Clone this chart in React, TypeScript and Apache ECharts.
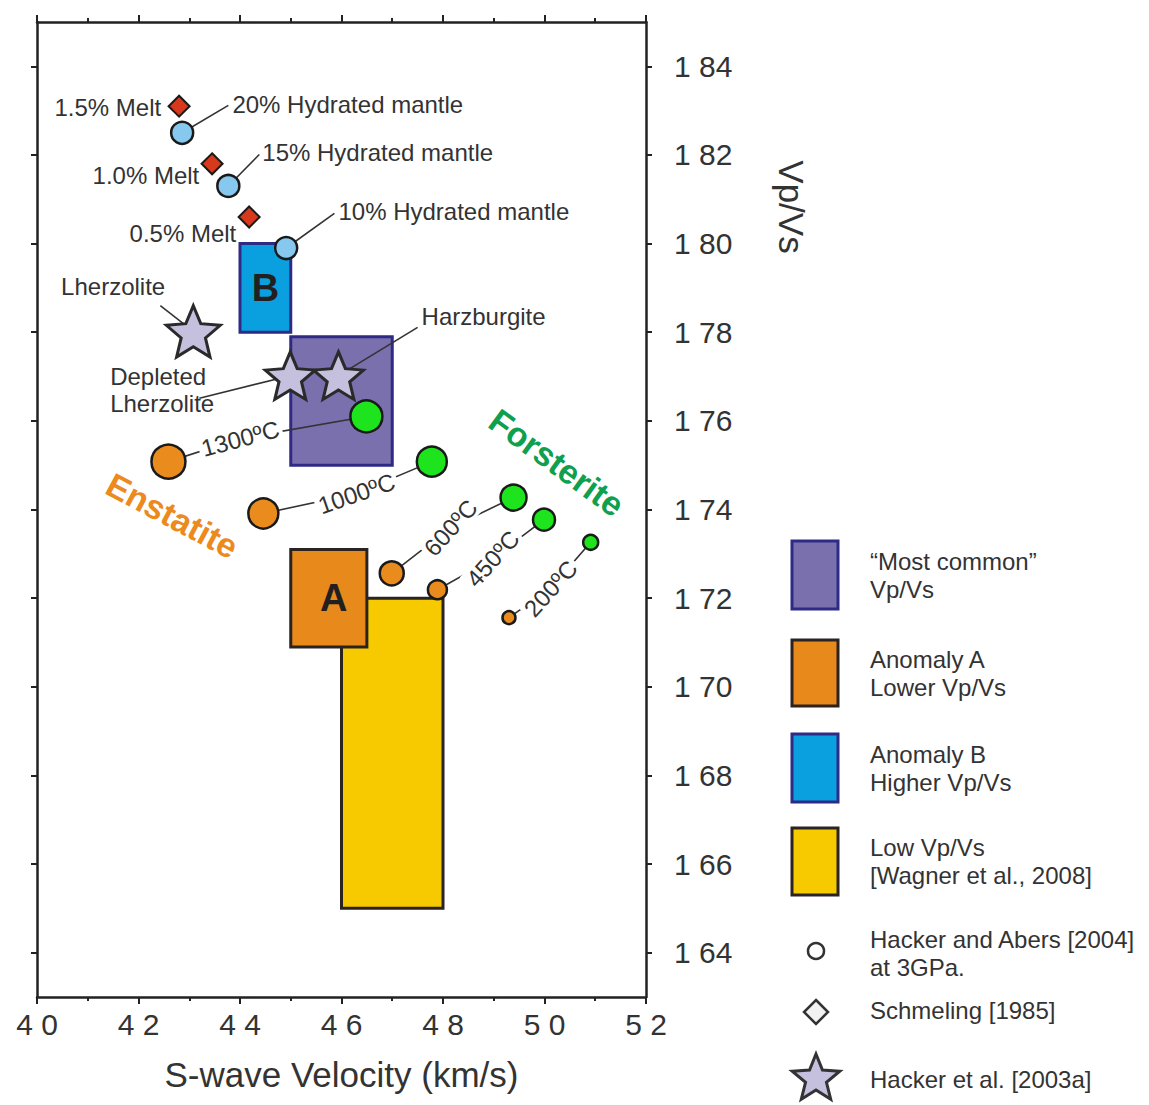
import React, { useEffect, useRef } from "react";
import * as echarts from "echarts";

const FONT = "'Liberation Sans', Arial, Helvetica, sans-serif";
const TXT = "#333333";

// ---- axes ----
const X_MIN = 4.0;
const X_MAX = 5.2;
const X_STEP = 0.2;
const Y_MIN = 1.63;
const Y_MAX = 1.85;
const Y_TICKS = [1.64, 1.66, 1.68, 1.7, 1.72, 1.74, 1.76, 1.78, 1.8, 1.82, 1.84];

// ---- rectangles (Vs range, Vp/Vs range) ----
const boxNames = ["Low Vp/Vs", "Most common", "Anomaly A", "Anomaly B"];
const boxLetters = ["", "", "A", "B"];
const boxVsMin = [4.6, 4.5, 4.5, 4.4];
const boxVsMax = [4.8, 4.7, 4.65, 4.5];
const boxRatioMin = [1.65, 1.75, 1.709, 1.78];
const boxRatioMax = [1.72, 1.779, 1.731, 1.8];
const boxFill = ["#F7CA00", "#7B70AE", "#E8891C", "#0AA0E0"];
const boxStroke = ["#2A2320", "#2E2A85", "#2A2320", "#2E2A85"];

// ---- Schmeling [1985] melt ----
const meltNames = ["1.5% Melt", "1.0% Melt", "0.5% Melt"];
const meltVs = [4.28, 4.345, 4.418];
const meltRatio = [1.831, 1.818, 1.806];
const meltLabelVs = [4.2447, 4.3197, 4.3927];
const meltLabelRatio = [1.8307, 1.8154, 1.8023];

// ---- Hydrated mantle ----
const hydNames = ["20% Hydrated mantle", "15% Hydrated mantle", "10% Hydrated mantle"];
const hydVs = [4.286, 4.377, 4.491];
const hydRatio = [1.825, 1.813, 1.799];
const hydLeaderVs = [4.377, 4.438, 4.586];
const hydLeaderRatio = [1.8312, 1.8201, 1.8068];
const hydLabelVs = [4.385, 4.444, 4.594];
const hydLabelRatio = [1.8314, 1.8206, 1.8073];

// ---- Hacker et al. [2003a] rocks ----
const rockNames = ["Lherzolite", "Depleted\nLherzolite", "Harzburgite"];
const rockVs = [4.308, 4.499, 4.594];
const rockRatio = [1.7802, 1.7702, 1.7702];
const rockLeaderVs = [4.243, 4.32, 4.75];
const rockLeaderRatio = [1.786, 1.7651, 1.7811];
const rockLabelVs = [4.15, 4.1441, 4.7578];
const rockLabelRatio = [1.7903, 1.7669, 1.7836];
const rockLabelPos = ["inside", "right", "right"];
const rockSize = [54, 50, 50];

// ---- Hacker and Abers [2004] at 3GPa ----
const tempLabels = ["1300ºC", "1000ºC", "600ºC", "450ºC", "200ºC"];
const enstatiteVs = [4.259, 4.446, 4.699, 4.789, 4.93];
const enstatiteRatio = [1.7508, 1.7391, 1.7256, 1.7219, 1.7156];
const forsteriteVs = [4.649, 4.778, 4.939, 4.999, 5.091];
const forsteriteRatio = [1.761, 1.7508, 1.7427, 1.7377, 1.7326];
const tempLabelVs = [4.4006, 4.6296, 4.815, 4.898, 5.012];
const tempLabelRatio = [1.756, 1.7436, 1.7359, 1.7289, 1.7222];
const tempLabelRot = [15, 19, 48, 48, 48];
const enstatiteSize = [34, 30, 24, 19, 13];
const forsteriteSize = [32, 30, 26, 22, 15];

// ---- mineral names ----
const mineralNames = ["Enstatite", "Forsterite"];
const mineralVs = [4.2664, 5.0243];
const mineralRatio = [1.7386, 1.7506];
const mineralRot = [-28, -36];
const mineralColor = ["#EC8A1E", "#0FA04F"];

const STAR_PATH =
  "path://M50 0L63.23 31.8L97.55 34.55L71.4 56.95L79.39 90.45L50 72.5L20.61 90.45L28.6 56.95L2.45 34.55L36.77 31.8Z";

function starPoints(cx: number, cy: number, R: number, r: number) {
  const pts: number[][] = [];
  for (let k = 0; k < 10; k++) {
    const a = ((-90 + 36 * k) * Math.PI) / 180;
    const rr = k % 2 === 0 ? R : r;
    pts.push([cx + rr * Math.cos(a), cy + rr * Math.sin(a)]);
  }
  return pts;
}

function legendGraphics() {
  const g: any[] = [];
  const rx = 792;
  const rw = 46;
  const rects = [
    { y: 541, h: 68, fill: "#7B70AE", stroke: "#2E2A85", l1: "\u201CMost common\u201D", l2: "Vp/Vs" },
    { y: 640, h: 66, fill: "#E8891C", stroke: "#2A2320", l1: "Anomaly A", l2: "Lower Vp/Vs" },
    { y: 734, h: 68, fill: "#0AA0E0", stroke: "#2E2A85", l1: "Anomaly B", l2: "Higher Vp/Vs" },
    { y: 828, h: 67, fill: "#F7CA00", stroke: "#2A2320", l1: "Low Vp/Vs", l2: "[Wagner et al., 2008]" },
  ];
  rects.forEach((r) => {
    g.push({
      type: "rect",
      shape: { x: rx, y: r.y, width: rw, height: r.h },
      style: { fill: r.fill, stroke: r.stroke, lineWidth: 3 },
    });
    const cy = r.y + r.h / 2;
    g.push({
      type: "text",
      x: 870,
      y: cy - 14,
      style: { text: r.l1, fill: TXT, font: `24px ${FONT}`, align: "left", verticalAlign: "middle" },
    });
    g.push({
      type: "text",
      x: 870,
      y: cy + 14,
      style: { text: r.l2, fill: TXT, font: `24px ${FONT}`, align: "left", verticalAlign: "middle" },
    });
  });
  g.push({
    type: "circle",
    shape: { cx: 816, cy: 951, r: 8 },
    style: { fill: "#ffffff", stroke: "#333", lineWidth: 2.5 },
  });
  g.push({
    type: "text",
    x: 870,
    y: 939,
    style: { text: "Hacker and Abers [2004]", fill: TXT, font: `24px ${FONT}`, align: "left", verticalAlign: "middle" },
  });
  g.push({
    type: "text",
    x: 870,
    y: 967,
    style: { text: "at 3GPa.", fill: TXT, font: `24px ${FONT}`, align: "left", verticalAlign: "middle" },
  });
  g.push({
    type: "polygon",
    shape: { points: [[816, 1000], [828, 1012], [816, 1024], [804, 1012]] },
    style: { fill: "#f2f2f2", stroke: "#333", lineWidth: 2.5 },
  });
  g.push({
    type: "text",
    x: 870,
    y: 1010,
    style: { text: "Schmeling [1985]", fill: TXT, font: `24px ${FONT}`, align: "left", verticalAlign: "middle" },
  });
  g.push({
    type: "polygon",
    shape: { points: starPoints(816, 1079, 25, 11) },
    style: { fill: "#C4C0DE", stroke: "#333", lineWidth: 3 },
  });
  g.push({
    type: "text",
    x: 870,
    y: 1079,
    style: { text: "Hacker et al. [2003a]", fill: TXT, font: `24px ${FONT}`, align: "left", verticalAlign: "middle" },
  });
  // y axis title
  g.push({
    type: "text",
    x: 791,
    y: 207,
    rotation: -Math.PI / 2,
    style: { text: "Vp/Vs", fill: TXT, font: `35px ${FONT}`, align: "center", verticalAlign: "middle" },
  });
  return g;
}

function buildOption(): any {
  const lineData: any[] = [];
  tempLabels.forEach((_, i) => {
    lineData.push({
      coords: [
        [enstatiteVs[i], enstatiteRatio[i]],
        [tempLabelVs[i], tempLabelRatio[i]],
        [forsteriteVs[i], forsteriteRatio[i]],
      ],
    });
  });
  hydNames.forEach((_, i) => {
    lineData.push({ coords: [[hydVs[i], hydRatio[i]], [hydLeaderVs[i], hydLeaderRatio[i]]] });
  });
  rockNames.forEach((_, i) => {
    lineData.push({ coords: [[rockVs[i], rockRatio[i]], [rockLeaderVs[i], rockLeaderRatio[i]]] });
  });

  const annot: any[] = [];
  hydNames.forEach((n, i) =>
    annot.push({ name: n, value: [hydLabelVs[i], hydLabelRatio[i]], label: { position: "right" } })
  );
  meltNames.forEach((n, i) =>
    annot.push({ name: n, value: [meltLabelVs[i], meltLabelRatio[i]], label: { position: "left" } })
  );
  rockNames.forEach((n, i) =>
    annot.push({ name: n, value: [rockLabelVs[i], rockLabelRatio[i]], label: { position: rockLabelPos[i] } })
  );

  const axisLabelFont = { fontFamily: FONT, fontSize: 30, color: TXT };
  const solid = { opacity: 1 };

  return {
    animation: false,
    backgroundColor: "#ffffff",
    textStyle: { fontFamily: FONT },
    grid: { left: 37, right: 503, top: 22, bottom: 108, containLabel: false },
    xAxis: [
      {
        type: "value",
        position: "bottom",
        min: X_MIN,
        max: X_MAX,
        interval: X_STEP,
        name: "S-wave Velocity (km/s)",
        nameLocation: "middle",
        nameGap: 60,
        nameTextStyle: { fontFamily: FONT, fontSize: 35, color: TXT },
        axisLine: { show: true, onZero: false, lineStyle: { color: "#222", width: 2.5 } },
        axisTick: { show: true, length: 7, lineStyle: { color: "#222", width: 2 } },
        minorTick: { show: true, splitNumber: 2, length: 4, lineStyle: { color: "#222", width: 2 } },
        axisLabel: {
          ...axisLabelFont,
          margin: 12,
          formatter: (v: number) => v.toFixed(1).replace(".", " "),
        },
        splitLine: { show: false },
      },
      {
        type: "value",
        position: "top",
        min: X_MIN,
        max: X_MAX,
        interval: X_STEP,
        axisLine: { show: true, onZero: false, lineStyle: { color: "#222", width: 2.5 } },
        axisTick: { show: true, length: 7, lineStyle: { color: "#222", width: 2 } },
        minorTick: { show: true, splitNumber: 2, length: 4, lineStyle: { color: "#222", width: 2 } },
        axisLabel: { show: false },
        splitLine: { show: false },
      },
    ],
    yAxis: [
      {
        type: "value",
        position: "right",
        min: Y_MIN,
        max: Y_MAX,
        axisLine: { show: true, onZero: false, lineStyle: { color: "#222", width: 2.5 } },
        axisTick: { show: true, length: 6, customValues: Y_TICKS, lineStyle: { color: "#222", width: 2 } },
        axisLabel: {
          ...axisLabelFont,
          margin: 28,
          customValues: Y_TICKS,
          formatter: (v: number) => v.toFixed(2).replace(".", " "),
        },
        splitLine: { show: false },
      },
      {
        type: "value",
        position: "left",
        min: Y_MIN,
        max: Y_MAX,
        axisLine: { show: true, onZero: false, lineStyle: { color: "#222", width: 2.5 } },
        axisTick: { show: true, length: 6, customValues: Y_TICKS, lineStyle: { color: "#222", width: 2 } },
        axisLabel: { show: false, customValues: Y_TICKS },
        splitLine: { show: false },
      },
    ],
    graphic: legendGraphics(),
    series: [
      {
        type: "custom",
        name: "boxes",
        z: 1,
        silent: true,
        encode: { x: [0, 1], y: [2, 3] },
        data: boxNames.map((_, i) => [boxVsMin[i], boxVsMax[i], boxRatioMin[i], boxRatioMax[i]]),
        renderItem: (params: any, api: any) => {
          const i = params.dataIndex;
          const tl = api.coord([api.value(0), api.value(3)]);
          const br = api.coord([api.value(1), api.value(2)]);
          const children: any[] = [
            {
              type: "rect",
              shape: { x: tl[0], y: tl[1], width: br[0] - tl[0], height: br[1] - tl[1] },
              style: { fill: boxFill[i], stroke: boxStroke[i], lineWidth: 3 },
            },
          ];
          if (boxLetters[i]) {
            children.push({
              type: "text",
              x: (tl[0] + br[0]) / 2 + (i === 2 ? 5 : 0),
              y: (tl[1] + br[1]) / 2,
              style: {
                text: boxLetters[i],
                fill: "#231F20",
                font: `bold 38px ${FONT}`,
                align: "center",
                verticalAlign: "middle",
              },
            });
          }
          return { type: "group", children };
        },
      },
      {
        type: "lines",
        coordinateSystem: "cartesian2d",
        polyline: true,
        z: 2,
        silent: true,
        lineStyle: { color: "#333", width: 1.6, opacity: 1 },
        data: lineData,
      },
      {
        type: "scatter",
        name: "Enstatite",
        z: 3,
        symbol: "circle",
        itemStyle: { color: "#EA8B1E", borderColor: "#1a1a1a", borderWidth: 2.5, opacity: 1 },
        data: enstatiteVs.map((x, i) => ({ value: [x, enstatiteRatio[i]], symbolSize: enstatiteSize[i] })),
      },
      {
        type: "scatter",
        name: "Forsterite",
        z: 3,
        symbol: "circle",
        itemStyle: { color: "#1EE41E", borderColor: "#1a1a1a", borderWidth: 2.5, opacity: 1 },
        data: forsteriteVs.map((x, i) => ({ value: [x, forsteriteRatio[i]], symbolSize: forsteriteSize[i] })),
      },
      {
        type: "scatter",
        name: "Hydrated",
        z: 3,
        symbol: "circle",
        symbolSize: 22,
        itemStyle: { color: "#86C8EE", borderColor: "#1a1a1a", borderWidth: 2.5, opacity: 1 },
        data: hydVs.map((x, i) => [x, hydRatio[i]]),
      },
      {
        type: "scatter",
        name: "Melt",
        z: 3,
        symbol: "diamond",
        symbolSize: 21,
        itemStyle: { color: "#D8381C", borderColor: "#1a1a1a", borderWidth: 2, opacity: 1 },
        data: meltVs.map((x, i) => [x, meltRatio[i]]),
      },
      {
        type: "scatter",
        name: "Rocks",
        z: 3,
        symbol: STAR_PATH,
        itemStyle: { color: "#C4C0DE", borderColor: "#2a2a2a", borderWidth: 3, opacity: 1 },
        data: rockVs.map((x, i) => ({ value: [x, rockRatio[i]], symbolSize: [rockSize[i], rockSize[i] * 0.95] })),
      },
      {
        type: "scatter",
        name: "annotations",
        z: 4,
        silent: true,
        symbolSize: 0,
        itemStyle: solid,
        label: {
          show: true,
          formatter: "{b}",
          distance: 0,
          fontFamily: FONT,
          fontSize: 24,
          lineHeight: 27,
          color: TXT,
          opacity: 1,
        },
        data: annot,
      },
      {
        type: "scatter",
        name: "temperatures",
        z: 4,
        silent: true,
        symbolSize: 0,
        itemStyle: solid,
        label: {
          show: true,
          position: "inside",
          formatter: "{b}",
          fontFamily: FONT,
          fontSize: 24,
          color: TXT,
          opacity: 1,
          backgroundColor: "#ffffff",
          padding: [0, 3],
        },
        data: tempLabels.map((t, i) => ({
          name: t,
          value: [tempLabelVs[i], tempLabelRatio[i]],
          label: { rotate: tempLabelRot[i] },
        })),
      },
      {
        type: "scatter",
        name: "minerals",
        z: 4,
        silent: true,
        symbolSize: 0,
        itemStyle: solid,
        label: {
          show: true,
          position: "inside",
          formatter: "{b}",
          fontFamily: FONT,
          fontSize: 34,
          fontWeight: "bold",
          opacity: 1,
        },
        data: mineralNames.map((n, i) => ({
          name: n,
          value: [mineralVs[i], mineralRatio[i]],
          label: { rotate: mineralRot[i], color: mineralColor[i] },
        })),
      },
    ],
  };
}

export default function App() {
  const ref = useRef<HTMLDivElement>(null);
  useEffect(() => {
    document.body.style.margin = "0";
    if (!ref.current) return;
    const chart = echarts.init(ref.current, undefined, { renderer: "svg" });
    chart.setOption(buildOption());
    return () => chart.dispose();
  }, []);
  return (
    <div
      ref={ref}
      style={{ position: "absolute", left: 0, top: 0, width: 1149, height: 1105, background: "#fff" }}
    />
  );
}
